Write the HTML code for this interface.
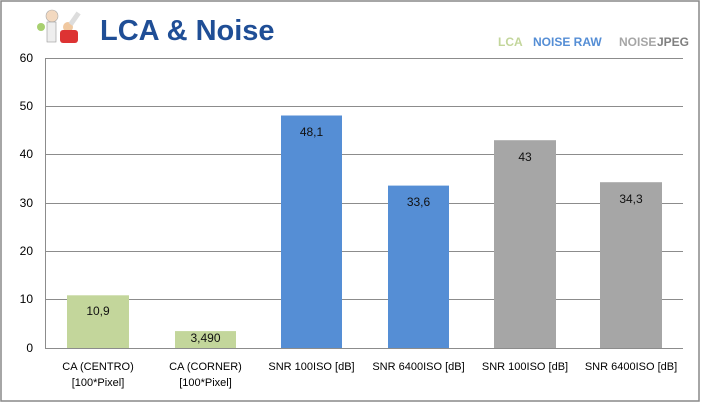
<!DOCTYPE html>
<html><head><meta charset="utf-8"><style>
html,body{margin:0;padding:0;background:#fff}
svg{display:block}
text{font-family:"Liberation Sans",sans-serif}
</style></head><body>
<svg width="702" height="403" viewBox="0 0 702 403" xmlns="http://www.w3.org/2000/svg">
<rect x="1" y="1" width="698" height="400" fill="#fff" stroke="#888" stroke-width="1.5"/>
<!-- mascot approximation -->
<g>
<circle cx="52" cy="16" r="6" fill="#f3d9c0" stroke="#aaa" stroke-width="0.6"/>
<rect x="47" y="22" width="9" height="20" fill="#eee" stroke="#999" stroke-width="0.6"/>
<circle cx="41" cy="27" r="4" fill="#a8d070"/>
<circle cx="68" cy="27" r="5" fill="#f0c8a0"/>
<rect x="60" y="30" width="18" height="13" fill="#d33" rx="3"/>
<rect x="72" y="12" width="5" height="14" fill="#ddd" transform="rotate(35 75 19)"/>
</g>
<text x="100" y="40" font-size="29" font-weight="bold" fill="#1f4e96">LCA &amp; Noise</text>
<text x="498" y="46" font-size="12" font-weight="bold" fill="#c3d69b">LCA</text>
<text x="533" y="46" font-size="12" font-weight="bold" fill="#558ed5">NOISE  RAW</text>
<text x="619" y="46" font-size="12" font-weight="bold" fill="#a6a6a6">NOISE</text>
<text x="657" y="46" font-size="12" font-weight="bold" fill="#7f7f7f">JPEG</text>
<!-- grid -->
<g stroke="#8c8c8c" stroke-width="1">
<line x1="45" y1="58.5" x2="683" y2="58.5"/>
<line x1="45" y1="106.5" x2="683" y2="106.5"/>
<line x1="45" y1="154.5" x2="683" y2="154.5"/>
<line x1="45" y1="203.5" x2="683" y2="203.5"/>
<line x1="45" y1="251.5" x2="683" y2="251.5"/>
<line x1="45" y1="299.5" x2="683" y2="299.5"/>
<line x1="45" y1="348.5" x2="683" y2="348.5"/>
<line x1="45.5" y1="58" x2="45.5" y2="348"/>
</g>
<g font-size="12" fill="#000" text-anchor="end">
<text x="33" y="62">60</text><text x="33" y="110">50</text><text x="33" y="158">40</text>
<text x="33" y="207">30</text><text x="33" y="255">20</text><text x="33" y="303">10</text>
<text x="33" y="352">0</text>
</g>
<!-- bars -->
<rect x="67" y="295.3" width="62" height="52.7" fill="#c3d69b"/>
<rect x="175" y="331.1" width="61" height="16.9" fill="#c3d69b"/>
<rect x="281" y="115.5" width="61" height="232.5" fill="#558ed5"/>
<rect x="388" y="185.6" width="61" height="162.4" fill="#558ed5"/>
<rect x="494" y="140.2" width="62" height="207.8" fill="#a6a6a6"/>
<rect x="600" y="182.2" width="62" height="165.8" fill="#a6a6a6"/>
<g font-size="12" fill="#111" text-anchor="middle">
<text x="98" y="315">10,9</text>
<text x="205.5" y="342">3,490</text>
<text x="311.5" y="136">48,1</text>
<text x="418.5" y="206">33,6</text>
<text x="525" y="161">43</text>
<text x="631" y="203">34,3</text>
</g>
<g font-size="11" fill="#000" text-anchor="middle">
<text x="98" y="370">CA (CENTRO)</text><text x="98" y="386">[100*Pixel]</text>
<text x="205.5" y="370">CA (CORNER)</text><text x="205.5" y="386">[100*Pixel]</text>
<text x="311.5" y="370">SNR 100ISO [dB]</text>
<text x="418.5" y="370">SNR 6400ISO [dB]</text>
<text x="525" y="370">SNR 100ISO [dB]</text>
<text x="631" y="370">SNR 6400ISO [dB]</text>
</g>
</svg>
</body></html>
